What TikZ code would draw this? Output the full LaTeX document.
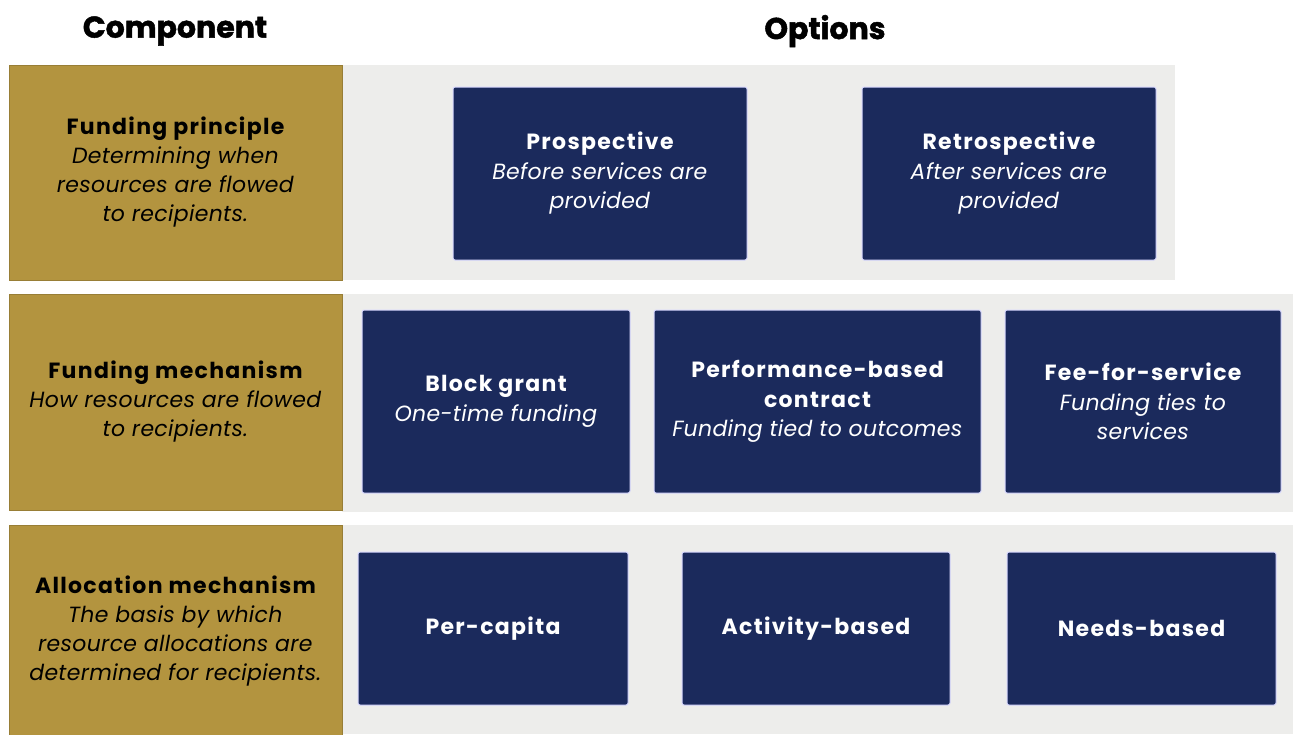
\documentclass[tikz,border=0pt]{standalone}
\usepackage{fontspec}
\setmainfont{Poppins}[BoldFeatures={LetterSpace=6},ItalicFeatures={LetterSpace=1.5}]
\newfontfamily\headfont{Poppins}[BoldFeatures={FakeBold=1.6}]
\newcommand{\B}[1]{{\fontsize{22}{29}\selectfont\bfseries #1}}
\definecolor{gold}{HTML}{B3943F}
\definecolor{navy}{HTML}{1B2A5C}
\definecolor{band}{HTML}{EDEDEB}
\begin{document}
\begin{tikzpicture}[x=1pt,y=-1pt,
  comp/.style={fill=gold,draw=gold!85!black,line width=0.8pt,minimum width=333pt,align=center,inner sep=0pt,font=\fontsize{22}{29}\selectfont,text=black},
  opt/.style={fill=navy,draw=white!85!blue,line width=1pt,rounded corners=2pt,align=center,inner sep=0pt,font=\fontsize{22}{29.5}\selectfont,text=white},
  head/.style={font=\headfont\fontsize{30}{34}\selectfont\bfseries,text=black}]
\useasboundingbox (0,0) rectangle (1293,734);
\fill[white] (0,0) rectangle (1293,734);
% background bands
\fill[band] (342,65) rectangle (1175,280);
\fill[band] (342,294) rectangle (1293,512);
\fill[band] (342,525) rectangle (1293,734);
% headers
\node[head] (hc) at (175,31) {Component};
\node[head] (ho) at (825,31) {Options};
% component boxes
\node[comp,minimum height=215pt] (c1) at (175.5,172.5) {\B{Funding principle}\\\textit{Determining when}\\\textit{resources are flowed}\\\textit{to recipients.}};
\node[comp,minimum height=216pt] (c2) at (175.5,402) {\B{Funding mechanism}\\\textit{How resources are flowed}\\\textit{to recipients.}};
\node[comp,minimum height=212pt] (c3) at (175.5,631) {\B{Allocation mechanism}\\\textit{The basis by which}\\\textit{resource allocations are}\\\textit{determined for recipients.}};
% row 1
\node[opt,minimum width=294pt,minimum height=173pt] (pro) at (600,173.5) {\B{Prospective}\\\textit{Before services are}\\\textit{provided}};
\node[opt,minimum width=294pt,minimum height=173pt] (ret) at (1009,173.5) {\B{Retrospective}\\\textit{After services are}\\\textit{provided}};
% row 2
\node[opt,minimum width=268pt,minimum height=183pt] (blk) at (496,401.5) {\B{Block grant}\\\textit{One-time funding}};
\node[opt,minimum width=327pt,minimum height=183pt] (perf) at (817.5,401.5) {\B{Performance-based}\\\B{contract}\\\textit{Funding tied to outcomes}};
\node[opt,minimum width=276pt,minimum height=183pt] (fee) at (1143,401.5) {\B{Fee-for-service}\\\textit{Funding ties to}\\\textit{services}};
% row 3
\node[opt,minimum width=270pt,minimum height=153pt] (pc) at (493,628.5) {\B{Per-capita}};
\node[opt,minimum width=268pt,minimum height=153pt] (act) at (816,628.5) {\B{Activity-based}};
\node[opt,minimum width=269pt,minimum height=153pt] (need) at (1141.5,628.5) {\B{Needs-based}};
\end{tikzpicture}
\end{document}
